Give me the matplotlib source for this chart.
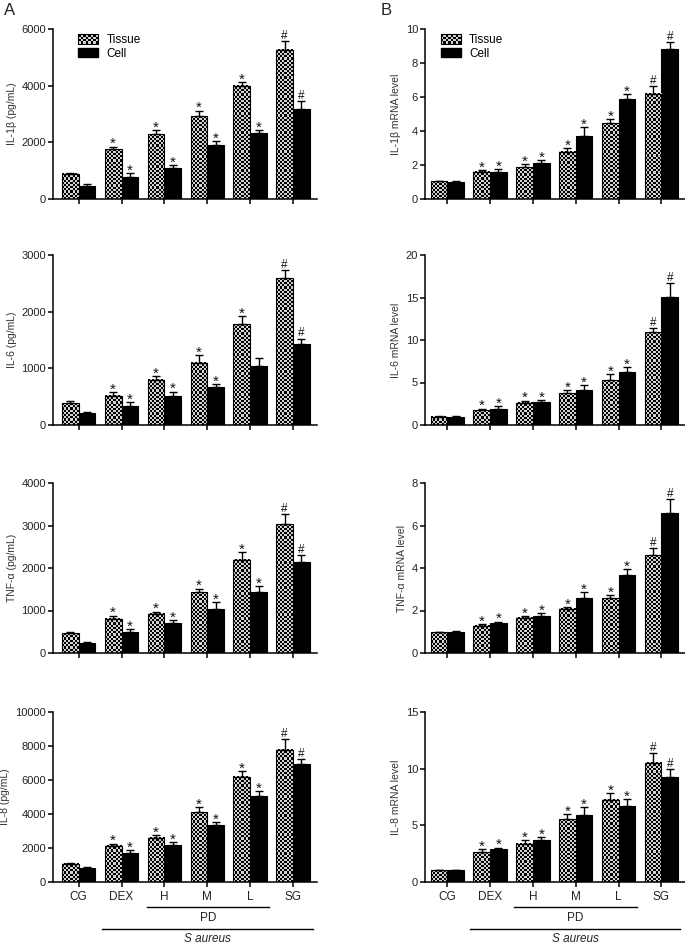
import matplotlib

matplotlib.use("Agg")
import matplotlib.pyplot as plt
import matplotlib.transforms as mtransforms
import numpy as np
from matplotlib.colors import ListedColormap
from matplotlib.legend_handler import HandlerBase
from matplotlib.patches import Rectangle

plt.rcParams["font.family"] = ["Liberation Sans", "DejaVu Sans"]

groups = ["CG", "DEX", "H", "M", "L", "SG"]

# A: protein, pg/mL
il1b_tissue = [900, 1750, 2280, 2920, 4000, 5270]
il1b_tissue_err = [20, 100, 160, 200, 140, 300]
il1b_cell = [450, 790, 1100, 1890, 2340, 3190]
il1b_cell_err = [80, 130, 110, 150, 100, 270]

il6_tissue = [385, 520, 795, 1100, 1775, 2590]
il6_tissue_err = [40, 60, 75, 130, 150, 140]
il6_cell = [205, 340, 520, 675, 1040, 1435]
il6_cell_err = [20, 65, 70, 40, 135, 90]

tnf_tissue = [465, 810, 920, 1430, 2190, 3030]
tnf_tissue_err = [25, 70, 55, 85, 175, 230]
tnf_cell = [245, 495, 695, 1040, 1440, 2150]
tnf_cell_err = [15, 70, 85, 160, 125, 165]

il8_tissue = [1080, 2120, 2610, 4100, 6180, 7780]
il8_tissue_err = [40, 140, 175, 295, 355, 650]
il8_cell = [825, 1690, 2200, 3330, 5060, 6920]
il8_cell_err = [40, 215, 175, 215, 315, 335]

# B: mRNA level
il1b_mrna_tissue = [1.05, 1.59, 1.88, 2.78, 4.47, 6.18]
il1b_mrna_tissue_err = [0.03, 0.12, 0.16, 0.20, 0.24, 0.49]
il1b_mrna_cell = [1.02, 1.61, 2.14, 3.73, 5.90, 8.84]
il1b_mrna_cell_err = [0.02, 0.17, 0.15, 0.49, 0.28, 0.38]

il6_mrna_tissue = [1.0, 1.74, 2.60, 3.76, 5.27, 10.93]
il6_mrna_tissue_err = [0.05, 0.20, 0.27, 0.31, 0.70, 0.50]
il6_mrna_cell = [1.0, 1.94, 2.67, 4.10, 6.24, 15.04]
il6_mrna_cell_err = [0.05, 0.27, 0.31, 0.55, 0.54, 1.70]

tnf_mrna_tissue = [0.98, 1.29, 1.67, 2.09, 2.57, 4.60]
tnf_mrna_tissue_err = [0.02, 0.06, 0.08, 0.08, 0.17, 0.34]
tnf_mrna_cell = [1.01, 1.40, 1.75, 2.57, 3.69, 6.61]
tnf_mrna_cell_err = [0.02, 0.08, 0.11, 0.28, 0.25, 0.63]

il8_mrna_tissue = [1.05, 2.63, 3.36, 5.53, 7.25, 10.53]
il8_mrna_tissue_err = [0.04, 0.24, 0.35, 0.46, 0.62, 0.82]
il8_mrna_cell = [1.05, 2.87, 3.71, 5.91, 6.73, 9.27]
il8_mrna_cell_err = [0.04, 0.17, 0.29, 0.67, 0.58, 0.67]

marks = ["", "*", "*", "*", "*", "#"]
il6_cell_marks = ["", "*", "*", "*", "", "#"]

CHECK_LIGHT = "#d2d2d2"
TEXT = "#222222"
W = 0.39


class CheckerHandler(HandlerBase):
    def create_artists(self, legend, orig_handle, xdescent, ydescent,
                       width, height, fontsize, trans):
        nx, ny = 8, 4
        cw, ch = width / nx, height / ny
        arts = [Rectangle((-xdescent, -ydescent), width, height,
                          facecolor=CHECK_LIGHT, edgecolor="none", transform=trans)]
        for i in range(ny):
            for j in range(nx):
                if (i + j) % 2:
                    arts.append(Rectangle((-xdescent + j * cw, -ydescent + i * ch), cw, ch,
                                          facecolor="black", edgecolor="none",
                                          transform=trans))
        arts.append(Rectangle((-xdescent, -ydescent), width, height, fill=False,
                              edgecolor="black", lw=0.8, transform=trans))
        return arts


def draw_panel(ax, tissue, t_err, cell, c_err, t_marks, c_marks,
               ymax, ystep, ylabel, xlim, bottom_row):
    x = np.arange(len(groups))
    ax.set_xlim(*xlim)
    ax.set_ylim(0, ymax)

    ax.bar(x - W / 2, tissue, W, color="white", edgecolor="none", zorder=2)
    ax.bar(x + W / 2, cell, W, color="black", edgecolor="black", linewidth=0.8, zorder=2)

    # checkerboard fill for tissue bars
    bbox = ax.get_window_extent()
    px_x = bbox.width / (xlim[1] - xlim[0])
    px_y = bbox.height / ymax
    nx = 8
    cell_px = W * px_x / nx
    cmap = ListedColormap([CHECK_LIGHT, "black"])
    for xi, h in zip(x, tissue):
        ny = max(1, int(round(h * px_y / cell_px)))
        img = np.add.outer(np.arange(ny), np.arange(nx)) % 2
        ax.imshow(img, extent=(xi - W, xi, 0, h), cmap=cmap, origin="lower",
                  aspect="auto", zorder=2.2, interpolation="nearest")
    ax.bar(x - W / 2, tissue, W, fill=False, edgecolor="black", linewidth=0.8, zorder=2.5)
    ax.set_xlim(*xlim)
    ax.set_ylim(0, ymax)

    zeros = np.zeros(len(groups))
    ax.errorbar(x - W / 2, tissue, yerr=[zeros, t_err], fmt="none", ecolor="black",
                elinewidth=1, capsize=2.6, capthick=1, zorder=3)
    ax.errorbar(x + W / 2, cell, yerr=[zeros, c_err], fmt="none", ecolor="black",
                elinewidth=1, capsize=2.6, capthick=1, zorder=3)

    for xs, vals, errs, mk in ((x - W / 2, tissue, t_err, t_marks),
                               (x + W / 2, cell, c_err, c_marks)):
        for xi, v, e, m in zip(xs, vals, errs, mk):
            if not m:
                continue
            if m == "*":
                dy, fs = -1.2, 11
            else:
                dy, fs = 1.5, 8.5
            ax.annotate(m, (xi, v + e), xytext=(0, dy), textcoords="offset points",
                        ha="center", va="baseline", fontsize=fs, color="#111111")

    ax.spines["top"].set_visible(False)
    ax.spines["right"].set_visible(False)
    ax.spines["left"].set_linewidth(1.1)
    ax.spines["bottom"].set_linewidth(1.1)
    ax.set_yticks(np.arange(0, ymax + ystep / 2, ystep))
    ax.set_xticks(x)
    ax.set_xticklabels(groups if bottom_row else [""] * len(groups))
    ax.tick_params(axis="y", direction="out", length=3.5, width=1.1,
                   labelsize=8, labelcolor=TEXT, pad=1.5)
    ax.tick_params(axis="x", direction="out", length=3.5, width=1.1,
                   labelsize=8.5, labelcolor=TEXT, pad=3)
    ax.set_ylabel(ylabel, fontsize=7.5, color="#333333", labelpad=3.5)


def draw_groups(ax, pd_span, sa_span):
    trans = mtransforms.blended_transform_factory(ax.transData, ax.transAxes)
    ax.plot(pd_span, [-0.147, -0.147], color="black", lw=1, transform=trans, clip_on=False)
    ax.text(np.mean(pd_span), -0.21, "PD", transform=trans, ha="center", va="center",
            fontsize=8.5, color=TEXT)
    ax.plot(sa_span, [-0.276, -0.276], color="black", lw=1, transform=trans, clip_on=False)
    ax.text(3.0, -0.335, "S aureus", transform=trans, ha="center", va="center",
            fontsize=8.5, style="italic", color=TEXT)


fig = plt.figure(figsize=(6.85, 9.44), dpi=100)
bottoms = [1 - 199 / 944, 1 - 425 / 944, 1 - 653 / 944, 1 - 882 / 944]
h = 170 / 944
left_pos = (53 / 685, 264 / 685)
right_pos = (425 / 685, 260 / 685)
left_xlim = (-0.6, 5.56)
right_xlim = (-0.52, 5.55)

left_panels = [
    (il1b_tissue, il1b_tissue_err, il1b_cell, il1b_cell_err, marks, marks, 6000, 2000, "IL-1β (pg/mL)"),
    (il6_tissue, il6_tissue_err, il6_cell, il6_cell_err, marks, il6_cell_marks, 3000, 1000, "IL-6 (pg/mL)"),
    (tnf_tissue, tnf_tissue_err, tnf_cell, tnf_cell_err, marks, marks, 4000, 1000, "TNF-α (pg/mL)"),
    (il8_tissue, il8_tissue_err, il8_cell, il8_cell_err, marks, marks, 10000, 2000, "IL-8 (pg/mL)"),
]
right_panels = [
    (il1b_mrna_tissue, il1b_mrna_tissue_err, il1b_mrna_cell, il1b_mrna_cell_err, marks, marks, 10, 2, "IL-1β mRNA level"),
    (il6_mrna_tissue, il6_mrna_tissue_err, il6_mrna_cell, il6_mrna_cell_err, marks, marks, 20, 5, "IL-6 mRNA level"),
    (tnf_mrna_tissue, tnf_mrna_tissue_err, tnf_mrna_cell, tnf_mrna_cell_err, marks, marks, 8, 2, "TNF-α mRNA level"),
    (il8_mrna_tissue, il8_mrna_tissue_err, il8_mrna_cell, il8_mrna_cell_err, marks, marks, 15, 5, "IL-8 mRNA level"),
]

for col, (pos, xlim, panels) in enumerate(((left_pos, left_xlim, left_panels),
                                           (right_pos, right_xlim, right_panels))):
    for row, p in enumerate(panels):
        ax = fig.add_axes([pos[0], bottoms[row], pos[1], h])
        draw_panel(ax, *p, xlim=xlim, bottom_row=(row == 3))
        if row == 0:
            tissue_proxy = Rectangle((0, 0), 1, 1)
            cell_proxy = Rectangle((0, 0), 1, 1, facecolor="black", edgecolor="black")
            anchor_x = 0.095 if col == 0 else 0.06
            ax.legend([tissue_proxy, cell_proxy], ["Tissue", "Cell"],
                      handler_map={tissue_proxy: CheckerHandler()},
                      loc="upper left", bbox_to_anchor=(anchor_x, 0.97), frameon=False,
                      fontsize=8.5, handlelength=1.7, handleheight=0.8,
                      handletextpad=0.7, labelspacing=0.15, borderpad=0, borderaxespad=0)
        if row == 3:
            if col == 0:
                draw_groups(ax, [1.6, 4.45], [0.55, 5.47])
            else:
                draw_groups(ax, [1.55, 4.43], [0.52, 5.43])

fig.text(4 / 685, 1 - 3 / 944, "A", fontsize=12, va="top", ha="left", color=TEXT)
fig.text(381 / 685, 1 - 3 / 944, "B", fontsize=12, va="top", ha="left", color=TEXT)

fig.savefig("out.png", dpi=100)
plt.close(fig)
